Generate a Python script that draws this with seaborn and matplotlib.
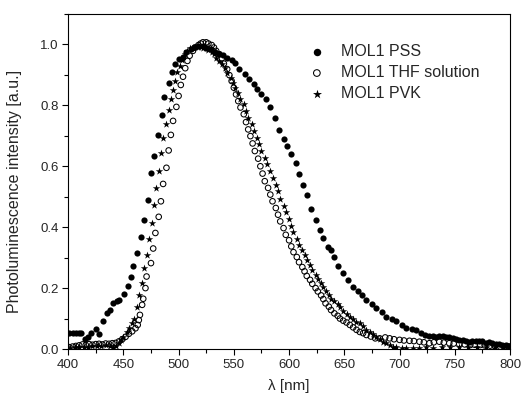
import numpy as np
import matplotlib
matplotlib.use("Agg")
import matplotlib.pyplot as plt
from matplotlib.ticker import MultipleLocator
import seaborn as sns

# MOL1 PSS (filled circles)
pss_nm = [401, 404, 407, 410, 412, 415, 418, 421, 425, 428, 432, 435, 438, 441, 444, 446,
          451, 454, 457, 459, 462, 466, 469, 472, 475, 478, 481, 485, 487, 491, 494, 497,
          500, 504, 507, 511, 514, 518, 522, 525, 529, 533, 537, 540, 544, 548, 551, 555,
          560, 564, 568, 571, 575, 579, 583, 587, 591, 595, 598, 602, 606, 609, 613, 616,
          620, 624, 628, 631, 635, 638, 641, 644, 649, 653, 658, 662, 666, 670, 675, 679,
          684, 688, 693, 697, 702, 706, 711, 715, 719, 723, 727, 730, 733, 736, 739, 742,
          745, 748, 751, 754, 757, 760, 763, 766, 769, 772, 775, 778, 781, 784, 787, 790,
          793, 796, 799]
pss_val = [0.052, 0.052, 0.051, 0.053, 0.054, 0.033, 0.040, 0.052, 0.066, 0.049, 0.093, 0.117,
           0.128, 0.150, 0.159, 0.161, 0.180, 0.207, 0.238, 0.273, 0.315, 0.368, 0.423, 0.488,
           0.578, 0.633, 0.703, 0.768, 0.828, 0.875, 0.911, 0.935, 0.952, 0.960, 0.974, 0.985,
           0.992, 0.996, 0.996, 0.990, 0.985, 0.974, 0.968, 0.965, 0.957, 0.948, 0.938, 0.919,
           0.902, 0.886, 0.869, 0.853, 0.836, 0.820, 0.793, 0.760, 0.719, 0.688, 0.666, 0.639,
           0.611, 0.573, 0.540, 0.507, 0.460, 0.425, 0.392, 0.364, 0.335, 0.326, 0.302, 0.273,
           0.249, 0.227, 0.203, 0.192, 0.178, 0.161, 0.148, 0.134, 0.121, 0.106, 0.099, 0.092,
           0.079, 0.070, 0.065, 0.063, 0.054, 0.046, 0.043, 0.042, 0.041, 0.043, 0.043, 0.040,
           0.038, 0.035, 0.032, 0.031, 0.030, 0.027, 0.024, 0.026, 0.027, 0.027, 0.027, 0.019,
           0.022, 0.021, 0.018, 0.015, 0.014, 0.013, 0.010]

# MOL1 THF solution (open circles)
thf_nm = [401, 404, 407, 410, 413, 416, 419, 422, 425, 428, 431, 434, 437, 440, 443, 446,
          449, 452, 455, 458, 461, 463, 464, 465, 467, 468, 470, 471, 475, 477, 479, 482,
          484, 486, 489, 491, 493, 495, 498, 500, 502, 504, 506, 508, 510, 513, 515, 518,
          520, 522, 525, 527, 530, 532, 534, 537, 539, 541, 544, 546, 548, 550, 552, 554,
          556, 559, 561, 563, 565, 567, 569, 572, 574, 576, 578, 581, 583, 585, 588, 590,
          592, 595, 597, 600, 602, 604, 607, 609, 612, 614, 616, 619, 621, 624, 626, 629,
          631, 633, 636, 638, 641, 644, 646, 649, 652, 655, 658, 661, 664, 667, 670, 674,
          678, 682, 687, 691, 695, 700, 704, 709, 713, 718, 722, 727, 731, 736, 740, 745,
          749, 754, 759, 764, 768, 773, 777, 782, 786, 791, 795, 799]
thf_val = [0.006, 0.008, 0.010, 0.012, 0.015, 0.013, 0.016, 0.014, 0.016, 0.017, 0.015, 0.018,
           0.017, 0.019, 0.020, 0.025, 0.032, 0.040, 0.050, 0.058, 0.068, 0.079, 0.095, 0.112,
           0.145, 0.165, 0.200, 0.238, 0.282, 0.330, 0.381, 0.434, 0.485, 0.542, 0.595, 0.652,
           0.703, 0.749, 0.795, 0.831, 0.867, 0.894, 0.922, 0.946, 0.963, 0.979, 0.990, 0.998,
           1.003, 1.007, 1.007, 1.003, 0.998, 0.990, 0.979, 0.968, 0.954, 0.937, 0.919, 0.899,
           0.880, 0.858, 0.836, 0.814, 0.793, 0.771, 0.745, 0.721, 0.699, 0.675, 0.650, 0.625,
           0.600, 0.576, 0.551, 0.529, 0.507, 0.485, 0.463, 0.441, 0.419, 0.397, 0.375, 0.357,
           0.337, 0.318, 0.302, 0.285, 0.269, 0.255, 0.240, 0.227, 0.214, 0.200, 0.189, 0.176,
           0.164, 0.150, 0.139, 0.128, 0.117, 0.109, 0.100, 0.093, 0.087, 0.079, 0.071, 0.063,
           0.056, 0.052, 0.046, 0.041, 0.035, 0.035, 0.038, 0.035, 0.032, 0.030, 0.028, 0.027,
           0.026, 0.024, 0.022, 0.019, 0.022, 0.024, 0.021, 0.019, 0.018, 0.016, 0.015, 0.013,
           0.014, 0.013, 0.012, 0.011, 0.010, 0.008, 0.009, 0.008]

# MOL1 PVK (stars)
pvk_nm = [402, 406, 410, 414, 418, 422, 426, 430, 434, 438, 441, 443, 446, 448, 450, 453,
          455, 458, 460, 462, 464, 467, 469, 471, 473, 476, 478, 480, 482, 484, 486, 489,
          491, 493, 495, 497, 499, 501, 503, 506, 508, 510, 513, 515, 518, 520, 522, 525,
          527, 530, 532, 534, 537, 539, 542, 544, 547, 549, 551, 554, 556, 559, 561, 563,
          566, 568, 571, 573, 575, 578, 580, 583, 585, 588, 590, 592, 595, 597, 600, 602,
          604, 607, 609, 612, 614, 616, 619, 621, 624, 626, 629, 631, 633, 636, 638, 641,
          644, 646, 649, 652, 655, 658, 661, 664, 667, 670, 673, 676, 679, 682, 685, 688,
          691, 694, 697, 702, 706, 712, 718, 724, 730, 738, 746, 754, 762, 770, 778, 786,
          794]
pvk_val = [0.004, 0.005, 0.006, 0.006, 0.008, 0.009, 0.010, 0.011, 0.012, 0.010, 0.006, 0.010,
           0.020, 0.030, 0.040, 0.057, 0.068, 0.085, 0.099, 0.139, 0.178, 0.218, 0.266, 0.310,
           0.361, 0.414, 0.472, 0.529, 0.584, 0.642, 0.694, 0.740, 0.784, 0.820, 0.851, 0.880,
           0.908, 0.930, 0.948, 0.968, 0.979, 0.987, 0.990, 0.992, 0.992, 0.992, 0.990, 0.988,
           0.982, 0.976, 0.968, 0.957, 0.946, 0.935, 0.922, 0.906, 0.889, 0.873, 0.857, 0.840,
           0.822, 0.804, 0.782, 0.760, 0.738, 0.716, 0.694, 0.672, 0.650, 0.628, 0.606, 0.584,
           0.562, 0.540, 0.518, 0.494, 0.471, 0.449, 0.427, 0.405, 0.383, 0.361, 0.342, 0.326,
           0.310, 0.293, 0.277, 0.260, 0.244, 0.229, 0.216, 0.203, 0.191, 0.178, 0.165, 0.156,
           0.148, 0.137, 0.126, 0.115, 0.106, 0.098, 0.090, 0.085, 0.074, 0.063, 0.056, 0.048,
           0.041, 0.032, 0.024, 0.019, 0.013, 0.008, 0.005, 0.003, 0.002, 0.004, 0.003, 0.005,
           0.004, 0.006, 0.005, 0.007, 0.006, 0.008, 0.007, 0.006, 0.005]

sns.set_theme(style="ticks")
plt.rcParams["font.family"] = ["Liberation Sans", "DejaVu Sans"]

fig = plt.figure(figsize=(5.28, 4.0), dpi=100)
ax = fig.add_axes([0.129, 0.1275, 0.837, 0.8375])

sns.scatterplot(x=pss_nm, y=pss_val, ax=ax, marker="o", s=20, color="black",
                edgecolor="black", linewidth=0, label="MOL1 PSS")
sns.scatterplot(x=thf_nm, y=thf_val, ax=ax, marker="o", s=16, facecolor="none",
                edgecolor="black", linewidth=0.75, label="MOL1 THF solution")
sns.scatterplot(x=pvk_nm, y=pvk_val, ax=ax, marker="*", s=32, color="black",
                edgecolor="black", linewidth=0, label="MOL1 PVK")

ax.set_xlim(400, 800)
ax.set_ylim(0, 1.1)
ax.xaxis.set_major_locator(MultipleLocator(50))
ax.xaxis.set_minor_locator(MultipleLocator(25))
ax.yaxis.set_major_locator(MultipleLocator(0.2))
ax.yaxis.set_minor_locator(MultipleLocator(0.1))
ax.tick_params(which="both", direction="out", top=False, right=False,
               labelsize=9.5, color="black", width=0.8, pad=3)
ax.tick_params(which="major", length=4)
ax.tick_params(which="minor", length=3)
for sp in ax.spines.values():
    sp.set_visible(True)
    sp.set_color("black")
    sp.set_linewidth(0.8)

ax.set_xlabel("λ [nm]", fontsize=11, labelpad=6)
ax.set_ylabel("Photoluminescence intensity [a.u.]", fontsize=11.5)
ax.yaxis.set_label_coords(-0.104, 0.47)

ax.legend(loc="upper left", bbox_to_anchor=(0.552, 0.91), frameon=False,
          fontsize=11.5, handlelength=0.6, handletextpad=1.2, labelspacing=0.38,
          borderpad=0, borderaxespad=0, markerscale=1.2)

fig.savefig("out.png", dpi=100)
